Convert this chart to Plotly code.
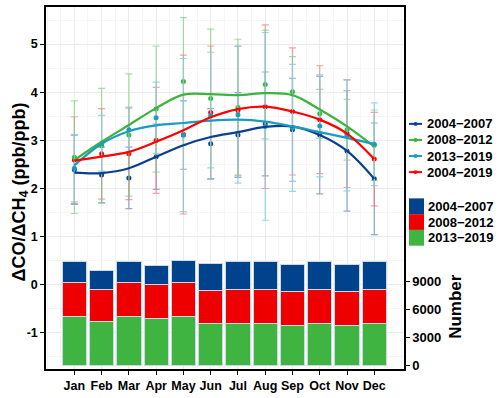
import plotly.graph_objects as go

months = ['Jan', 'Feb', 'Mar', 'Apr', 'May', 'Jun', 'Jul', 'Aug', 'Sep', 'Oct', 'Nov', 'Dec']
xpos = list(range(12))

# monthly mean ratio and standard deviation
p0407 = [2.39, 2.28, 2.22, 2.66, 3.11, 2.93, 3.11, 3.34, 3.22, 3.11, 2.78, 2.20]
sd0407 = [0.72, 0.58, 0.64, 0.68, 0.71, 0.73, 0.88, 1.08, 1.07, 1.22, 1.25, 1.16]
p0812 = [2.65, 2.89, 3.11, 3.65, 4.22, 3.87, 3.68, 4.16, 4.01, 3.55, 3.22, 2.90]
sd0812 = [1.17, 1.19, 1.27, 1.31, 1.33, 1.44, 1.42, 1.13, 0.73, 0.51, 0.63, 0.73]
p1319 = [2.42, 2.94, 3.22, 3.47, 3.11, 3.51, 3.53, 3.29, 3.26, 3.30, 3.10, 2.92]
sd1319 = [0.70, 0.58, 0.47, 0.74, 1.59, 1.32, 1.42, 1.95, 1.32, 1.06, 1.15, 0.86]
p0419 = [2.59, 2.72, 2.72, 3.00, 3.12, 3.58, 3.62, 3.70, 3.60, 3.43, 3.14, 2.61]
sd0419 = [0.90, 0.94, 0.95, 1.10, 1.65, 1.38, 1.34, 1.70, 1.32, 1.12, 1.12, 0.97]

# smoothed curves
c0407 = [2.33, 2.32, 2.42, 2.66, 2.90, 3.07, 3.17, 3.28, 3.29, 3.11, 2.78, 2.20]
c0812 = [2.59, 2.97, 3.32, 3.67, 3.95, 3.96, 3.94, 3.98, 3.94, 3.64, 3.29, 2.87]
c1319 = [2.48, 2.93, 3.19, 3.31, 3.36, 3.41, 3.43, 3.39, 3.29, 3.17, 3.05, 2.92]
c0419 = [2.58, 2.66, 2.76, 2.97, 3.21, 3.48, 3.65, 3.70, 3.60, 3.43, 3.14, 2.61]

# number of samples
n0407 = [2250, 2000, 2250, 2100, 2320, 2810, 2950, 2950, 2840, 2950, 2840, 2950]
n0812 = [3720, 3400, 3720, 3620, 3720, 3610, 3720, 3720, 3580, 3720, 3580, 3720]
n1319 = [5160, 4700, 5160, 4980, 5160, 4420, 4420, 4420, 4290, 4420, 4290, 4420]

line_names = ['2004\u22122007', '2008\u22122012', '2013\u22122019', '2004\u22122019']
line_colors = ['#0b3f8c', '#3cb33c', '#1a9cc0', '#ff0000']
err_colors = ['rgba(100,135,185,0.7)', 'rgba(130,205,130,0.7)', 'rgba(140,205,222,0.85)', 'rgba(245,120,120,0.7)']
bar_names = ['2004\u22122007', '2008\u22122012', '2013\u22122019']
bar_colors = ['#00438c', '#ee0000', '#40b440']

fig = go.Figure()

# stacked bars (right axis)
for vals, name, col in [(n1319, bar_names[2], bar_colors[2]),
                        (n0812, bar_names[1], bar_colors[1]),
                        (n0407, bar_names[0], bar_colors[0])]:
    fig.add_trace(go.Bar(x=xpos, y=vals, name=name, width=0.89,
                         marker=dict(color=col, line=dict(color='#c9d9e6', width=1)),
                         yaxis='y', showlegend=False))

points = [p0407, p0812, p1319, p0419]
sds = [sd0407, sd0812, sd1319, sd0419]
curves = [c0407, c0812, c1319, c0419]

# error bars: cyan drawn last so it sits on top
for i in [0, 3, 1, 2]:
    fig.add_trace(go.Scatter(x=xpos, y=points[i], mode='markers', yaxis='y2',
                             marker=dict(color=line_colors[i], size=5),
                             error_y=dict(type='data', array=sds[i], visible=True,
                                          color=err_colors[i], thickness=1.2, width=3.5),
                             showlegend=False))
for cv, col, name in zip(curves, line_colors, line_names):
    fig.add_trace(go.Scatter(x=xpos, y=cv, mode='lines', yaxis='y2', name=name,
                             line=dict(color=col, width=2.2, shape='spline', smoothing=1.0),
                             showlegend=False))

bold = dict(family='Arial', size=12.5, color='black', weight='bold')

fig.update_layout(
    width=500, height=398,
    margin=dict(l=46, r=96, t=5, b=26),
    paper_bgcolor='white', plot_bgcolor='white',
    barmode='stack', bargap=0.11,
    showlegend=False,
    xaxis=dict(range=[-1.04, 12.09], tickvals=xpos, ticktext=months,
               tickfont=bold, ticks='outside', ticklen=4, tickcolor='black',
               showline=True, linecolor='black', linewidth=1.5, mirror=True,
               showgrid=True, gridcolor='#ebebeb', gridwidth=1,
               minor=dict(dtick=0.5, tick0=0, showgrid=True, gridcolor='#f5f5f5'),
               zeroline=False),
    yaxis=dict(side='right', range=[-390, 38240], tickvals=[0, 3000, 6000, 9000],
               tickfont=dict(family='Arial', size=13, color='black', weight='bold'),
               ticks='outside', ticklen=4, tickcolor='black',
               showline=True, linecolor='black', linewidth=1.5,
               showgrid=False, zeroline=False),
    yaxis2=dict(overlaying='y', side='left', range=[-1.75, 5.77],
                tickvals=[-1, 0, 1, 2, 3, 4, 5],
                ticktext=['-1', '0', '1', '2', '3', '4', '5'],
                tickfont=bold, ticks='outside', ticklen=4, tickcolor='black',
                showline=True, linecolor='black', linewidth=1.5,
                showgrid=True, gridcolor='#ebebeb', gridwidth=1,
                minor=dict(dtick=0.5, showgrid=True, gridcolor='#f5f5f5'),
                zeroline=False),
)

# axis titles
fig.add_annotation(text='<b>\u0394CO/\u0394CH<sub>4</sub> (ppb/ppb)</b>', xref='paper', yref='paper',
                   x=(20 - 46) / 358, y=(372 - 193) / 367, textangle=-90, showarrow=False,
                   xanchor='center', yanchor='middle',
                   font=dict(family='Arial', size=18, color='black'))
fig.add_annotation(text='<b>Number</b>', xref='paper', yref='paper',
                   x=(456 - 46) / 358, y=(372 - 309) / 367, textangle=-90, showarrow=False,
                   xanchor='center', yanchor='middle',
                   font=dict(family='Arial', size=17, color='black'))

def px_x(px):
    return (px - 46) / 358

def px_y(py):
    return (372 - py) / 367

legend_font = dict(family='Arial', size=13, color='black', weight='bold')

# legend for curves
for i, (name, col) in enumerate(zip(line_names, line_colors)):
    yy = 123.5 + i * 16.3
    fig.add_shape(type='line', xref='paper', yref='paper', x0=px_x(409), x1=px_x(422),
                  y0=px_y(yy), y1=px_y(yy), line=dict(color=col, width=2))
    fig.add_shape(type='circle', xref='paper', yref='paper',
                  x0=px_x(413.5), x1=px_x(417.5), y0=px_y(yy - 2), y1=px_y(yy + 2),
                  fillcolor=col, line=dict(color=col, width=0))
    fig.add_annotation(text=name, xref='paper', yref='paper', x=px_x(425), y=px_y(yy),
                       xanchor='left', yanchor='middle', showarrow=False, font=legend_font)

# legend for bars
for i, (name, col) in enumerate(zip(bar_names, bar_colors)):
    y0 = 199 + i * 16
    fig.add_shape(type='rect', xref='paper', yref='paper', x0=px_x(409), x1=px_x(424),
                  y0=px_y(y0), y1=px_y(y0 + 16), fillcolor=col, line=dict(width=0))
    fig.add_annotation(text=name, xref='paper', yref='paper', x=px_x(426.5), y=px_y(y0 + 8),
                       xanchor='left', yanchor='middle', showarrow=False, font=legend_font)

fig.write_html('out.html', config={'displayModeBar': False},
               post_script="document.body.style.margin='0';")
